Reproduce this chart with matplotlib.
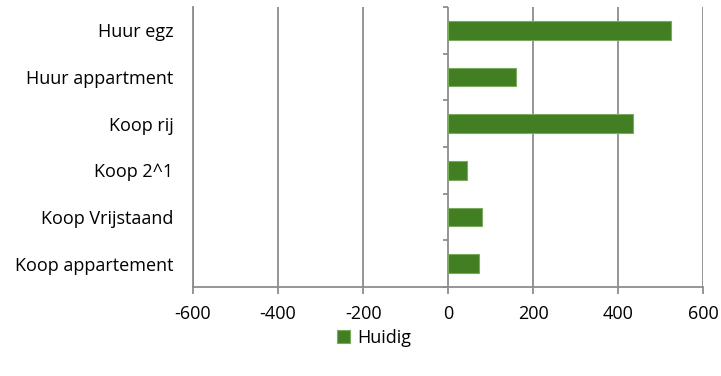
import matplotlib
matplotlib.use('Agg')
import matplotlib.pyplot as plt
import numpy as np

plt.rcParams['font.family'] = ['Open Sans', 'DejaVu Sans']

categories = ['Huur egz', 'Huur appartment', 'Koop rij', 'Koop 2^1',
              'Koop Vrijstaand', 'Koop appartement']
huidig = [523, 160, 435, 45, 79, 73]
xticks = [-600, -400, -200, 0, 200, 400, 600]

grid_col = '#8c8c8c'
bar_col = '#417f22'
fs = 13

fig = plt.figure(figsize=(7.21, 3.76), dpi=100)
ax = fig.add_axes([0.2677, 0.2367, 0.7078, 0.7447])

y = np.arange(len(categories))
ax.barh(y, huidig, height=0.4, color=bar_col, edgecolor='#7aab5c',
        linewidth=0.8, label='Huidig', zorder=3)

ax.set_xlim(-600, 600)
ax.set_ylim(len(categories) - 0.5, -0.5)
ax.set_xticks(xticks)
ax.set_xticklabels([str(v) for v in xticks])
ax.grid(axis='x', color=grid_col, linewidth=1.3, zorder=0)
ax.tick_params(axis='x', length=5, width=1.3, color=grid_col, pad=8,
               labelsize=fs, labelcolor='black')

ax.set_yticks(y)
ax.set_yticklabels(categories)
ax.tick_params(axis='y', length=0, pad=14, labelsize=fs, labelcolor='black')

for side in ['top', 'right']:
    ax.spines[side].set_visible(False)
for side in ['left', 'bottom']:
    ax.spines[side].set_color(grid_col)
    ax.spines[side].set_linewidth(1.3)

# category separator ticks on the zero axis, pointing left
bounds = np.arange(len(categories) + 1) - 0.5
tick_mark = [(-1, 0), (0, 0)]
ax.plot(np.zeros_like(bounds), bounds, linestyle='none', marker=tick_mark,
        markersize=7.5, markeredgewidth=1.3, color=grid_col, clip_on=False,
        zorder=2)

fig.legend(loc='center', bbox_to_anchor=(374 / 721, 1 - 338 / 376),
           frameon=False, fontsize=fs, handlelength=0.7, handleheight=0.7,
           handletextpad=0.4)

fig.savefig('out.png', dpi=100)
